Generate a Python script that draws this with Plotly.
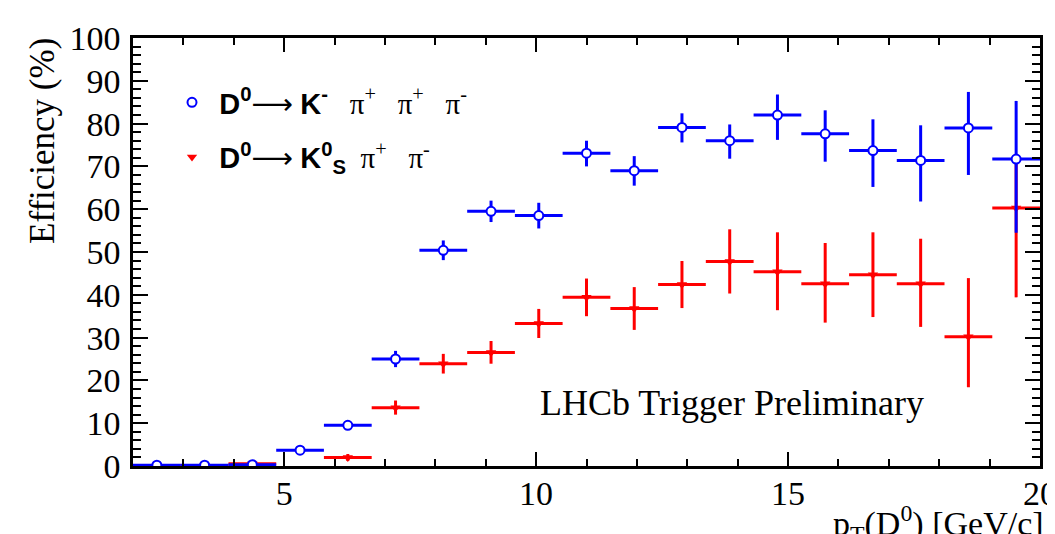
import plotly.graph_objects as go

# ---- data ----
bin_edges = [2.000, 2.947, 3.895, 4.842, 5.789, 6.737, 7.684, 8.632, 9.579, 10.526,
             11.474, 12.421, 13.368, 14.316, 15.263, 16.211, 17.158, 18.105, 19.053, 20.000]

eff_k3pi = [0.2, 0.2, 0.3, 3.7, 9.5, 25.0, 50.4, 59.5, 58.5, 73.1,
            69.0, 79.1, 76.0, 82.0, 77.6, 73.7, 71.4, 79.0, 71.7]
eff_k3pi_up = [0.2, 0.2, 0.3, 0.5, 0.8, 1.9, 2.3, 2.5, 3.0, 2.9,
               3.4, 3.3, 3.8, 4.8, 5.5, 7.3, 8.2, 8.4, 13.6]
eff_k3pi_dn = [0.2, 0.2, 0.3, 0.5, 0.8, 1.9, 2.3, 2.5, 3.0, 3.1,
               3.5, 3.5, 4.2, 5.8, 6.5, 8.5, 9.6, 11.0, 17.2]

eff_kspipi = [0.1, 0.1, 0.5, None, 2.0, 13.6, 23.9, 26.5, 33.3, 39.4,
              36.8, 42.4, 47.8, 45.4, 42.6, 44.7, 42.6, 30.2, 60.3]
eff_kspipi_up = [0.1, 0.1, 0.3, None, 0.8, 1.7, 2.3, 2.7, 3.4, 4.4,
                 5.0, 5.5, 7.5, 9.2, 9.5, 9.9, 10.5, 13.7, 12.0]
eff_kspipi_dn = [0.1, 0.1, 0.3, None, 0.8, 1.6, 2.3, 2.6, 3.4, 4.4,
                 5.0, 5.5, 7.5, 9.0, 9.1, 9.9, 10.1, 11.8, 20.9]

x_tickvals = [5, 10, 15, 20]

SANS = "Liberation Sans"
ARROW = "<span style='font-family:DejaVu Sans'>\u27f6</span>"
label_k3pi = ("&nbsp;<span style='font-family:" + SANS + "'><b>D<sup>0</sup></b></span>"
              + ARROW + " <span style='font-family:" + SANS + "'><b>K<sup>-</sup></b></span>"
              "&nbsp;&nbsp;&nbsp;\u03c0<sup>+</sup>&nbsp;&nbsp;&nbsp;\u03c0<sup>+</sup>&nbsp;&nbsp;&nbsp;\u03c0<sup>-</sup>")
label_kspipi = ("&nbsp;<span style='font-family:" + SANS + "'><b>D<sup>0</sup></b></span>"
                + ARROW + " <span style='font-family:" + SANS + "'><b>K<sup>0</sup><sub>S</sub></b></span>"
                "&nbsp;&nbsp;\u03c0<sup>+</sup>&nbsp;&nbsp;&nbsp;\u03c0<sup>-</sup>")

# ---- derived bin geometry ----
centers = [(a + b) / 2 for a, b in zip(bin_edges[:-1], bin_edges[1:])]
halfw = [(b - a) / 2 for a, b in zip(bin_edges[:-1], bin_edges[1:])]

BLUE = "#0000ff"
RED = "#ff0000"
SERIF = "Liberation Serif"

fig = go.Figure()

fig.add_trace(go.Scatter(
    x=centers, y=eff_kspipi, mode="markers", name=label_kspipi,
    legendgroup="b", legendrank=2,
    marker=dict(symbol="triangle-down", size=9, color=RED),
    error_x=dict(type="data", array=halfw, symmetric=True, color=RED, thickness=3, width=0),
    error_y=dict(type="data", array=eff_kspipi_up, arrayminus=eff_kspipi_dn, symmetric=False,
                 color=RED, thickness=3, width=0),
))

fig.add_trace(go.Scatter(
    x=centers, y=eff_k3pi, mode="markers", name=label_k3pi,
    legendgroup="a", legendrank=1,
    marker=dict(symbol="circle", size=9, color="white", line=dict(color=BLUE, width=2)),
    error_x=dict(type="data", array=halfw, symmetric=True, color=BLUE, thickness=3, width=0),
    error_y=dict(type="data", array=eff_k3pi_up, arrayminus=eff_k3pi_dn, symmetric=False,
                 color=BLUE, thickness=3, width=0),
))

# empty helper trace so the top/right frame axes get their own subplot with ticks
fig.add_trace(go.Scatter(x=[None], y=[None], xaxis="x2", yaxis="y2", mode="markers",
                         showlegend=False, hoverinfo="skip"))

axis_common = dict(
    showline=True, linecolor="black", linewidth=2.5,
    ticks="inside", tickcolor="black", tickwidth=2,
    showgrid=False, zeroline=False, ticklabeloverflow="allow",
    tickfont=dict(family=SERIF, size=34, color="black"),
)
x_minor = dict(dtick=1, ticklen=7, ticks="inside", tickcolor="black", tickwidth=2, showgrid=False)
y_minor = dict(dtick=2, ticklen=8, ticks="inside", tickcolor="black", tickwidth=2, showgrid=False)

# page body adds an 8px offset; the figure is sized so the plot area lands at 133..1040 x 38..466
W, H = 1047, 526
ML, MR, MT, MB = 125, 15, 30, 68
PW, PH = W - ML - MR, H - MT - MB


def px(xw):
    return (xw - 8 - ML) / PW


def py(yw):
    return (H + 8 - MB - yw) / PH


fig.update_layout(
    width=W, height=H,
    margin=dict(l=ML, r=MR, t=MT, b=MB, autoexpand=False),
    paper_bgcolor="white", plot_bgcolor="white",
    showlegend=True,
    xaxis=dict(range=[2, 20], tickmode="array", tickvals=x_tickvals, ticklen=14,
               minor=x_minor, ticklabelstandoff=-5, **axis_common),
    yaxis=dict(range=[0, 100], dtick=10, ticklen=15,
               minor=y_minor, ticklabelstandoff=3, **axis_common),
    xaxis2=dict(range=[2, 20], tickmode="array", tickvals=x_tickvals, ticklen=14,
                minor=x_minor, overlaying="x", side="top", anchor="y2",
                showticklabels=False, **axis_common),
    yaxis2=dict(range=[0, 100], dtick=10, ticklen=15,
                minor=y_minor, overlaying="y", side="right", anchor="x2",
                showticklabels=False, **axis_common),
    legend=dict(x=px(172), y=py(77), xanchor="left", yanchor="top",
                font=dict(family=SERIF, size=29, color="black"),
                bgcolor="rgba(0,0,0,0)", traceorder="grouped", tracegroupgap=14,
                itemclick=False),
    annotations=[
        dict(text="LHCb Trigger Preliminary", xref="paper", yref="paper",
             x=px(732), y=py(403), xanchor="center", yanchor="middle",
             showarrow=False, font=dict(family=SERIF, size=36, color="black")),
        dict(text="Efficiency (%)", xref="paper", yref="paper",
             x=px(43), y=py(36), xanchor="center", yanchor="top", textangle=-90,
             showarrow=False, font=dict(family=SERIF, size=35, color="black")),
        dict(text="p<sub>T</sub>(D<sup>0</sup>) [GeV/c]", xref="paper", yref="paper",
             x=px(1046), y=py(498), xanchor="right", yanchor="top",
             showarrow=False, font=dict(family=SERIF, size=34, color="black")),
    ],
)

fig.write_html("out.html")
